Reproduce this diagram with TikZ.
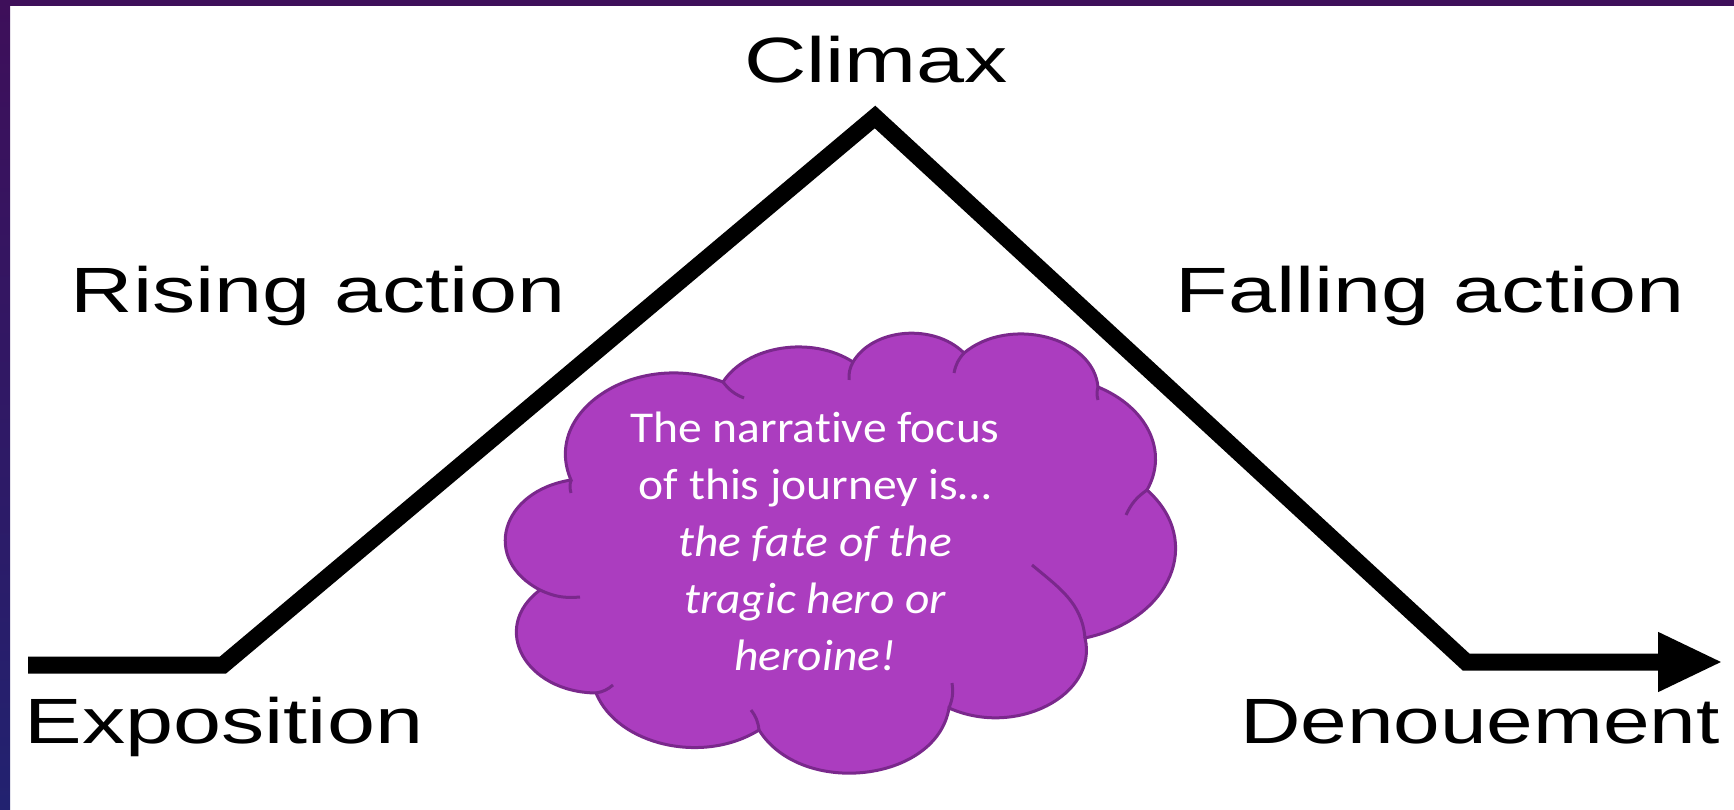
\documentclass[tikz,border=0pt]{standalone}
\usepackage{fontspec}
\setmainfont{Liberation Sans}
\newfontfamily\stagefont[FakeStretch=1.35]{Liberation Sans}
\newfontfamily\cloudfont[FakeStretch=1.08,Ligatures=NoCommon]{Carlito}
\usetikzlibrary{arrows.meta}
\definecolor{framepurple}{RGB}{62,15,90}
\definecolor{framenavy}{RGB}{34,34,112}
\definecolor{cloudfill}{RGB}{171,61,191}
\definecolor{cloudedge}{RGB}{122,40,140}

\begin{document}
\begin{tikzpicture}[x=1pt,y=1pt,
    stage/.style={anchor=base,inner sep=0pt,font=\stagefont\fontsize{64}{77}\selectfont},
    plotline/.style={line width=17pt,line join=miter,-{Triangle[length=65pt,width=55pt]}},
    puff/.style={draw=cloudedge,line width=3pt}]
  \useasboundingbox (0,0) rectangle (1734,809);
  % Frame
  \fill[white] (0,0) rectangle (1734,809);
  \shade[top color=framepurple,bottom color=framenavy] (0,0) rectangle (10,809);
  \fill[framepurple] (0,803) rectangle (1734,809);
  % Plot line
  \coordinate (start) at (28,144);
  \coordinate (rise) at (223,144);
  \coordinate (peak) at (875,692);
  \coordinate (fall) at (1466,147);
  \coordinate (end) at (1723,147);
  \draw[plotline] (start) -- (rise) -- (peak) -- (fall) -- (end);
  % Stages
  \node[stage] (climax) at (876,726) {Climax};
  \node[stage] (rising) at (318,496) {Rising action};
  \node[stage] (falling) at (1430,496) {Falling action};
  \node[stage] (exposition) at (224,66) {Exposition};
  \node[stage] (denouement) at (1480,66) {\scalebox{0.97}[1]{Denouement}};
  % Cloud
  \filldraw[puff,fill=cloudfill] (571,329)
    .. controls +(-30.0,68.9) and +(-86.4,32.9) .. (723,427)
    .. controls +(23.9,36.6) and +(-41.1,26.7) .. (853,447)
    .. controls +(20.3,34.2) and +(-30.1,29.9) .. (964,456)
    .. controls +(45.2,37.5) and +(-4.7,50.3) .. (1098,422)
    .. controls +(49.1,-20.3) and +(21.9,38.6) .. (1147,319)
    .. controls +(57.5,-51.2) and +(86.0,18.4) .. (1085,171)
    .. controls +(13.5,-57.2) and +(66.7,-29.9) .. (949,101)
    .. controls +(-12.2,-74.2) and +(42.3,-67.8) .. (759,79)
    .. controls +(-55.9,-35.0) and +(21.3,-52.1) .. (596,116)
    .. controls +(-71.1,0.9) and +(-50.3,-37.5) .. (540,219)
    .. controls +(-58.9,30.8) and +(-70.3,-11.2) .. (571,329) -- cycle;
  \foreach \ax/\ay/\bx/\by in {571/329/571/316, 723/427/744/411, 853/447/849/429,
      964/456/954/436, 1098/422/1098/409, 1147/319/1126/294, 949/101/952/126,
      759/79/751/99, 596/116/613/124, 540/219/580/212}
    \draw[puff] (\ax,\ay) to[bend right=15] (\bx,\by);
  \draw[puff] (1085,171) to[out=95,in=-40] (1032,244);
  \node[font=\cloudfont\fontsize{44}{57}\selectfont,text=white,align=center] (focus) at (815,268)
    {The narrative focus\\ of this journey is…\\ {\itshape the fate of the}\\ {\itshape tragic hero or}\\ {\itshape heroine!}};
\end{tikzpicture}
\end{document}
